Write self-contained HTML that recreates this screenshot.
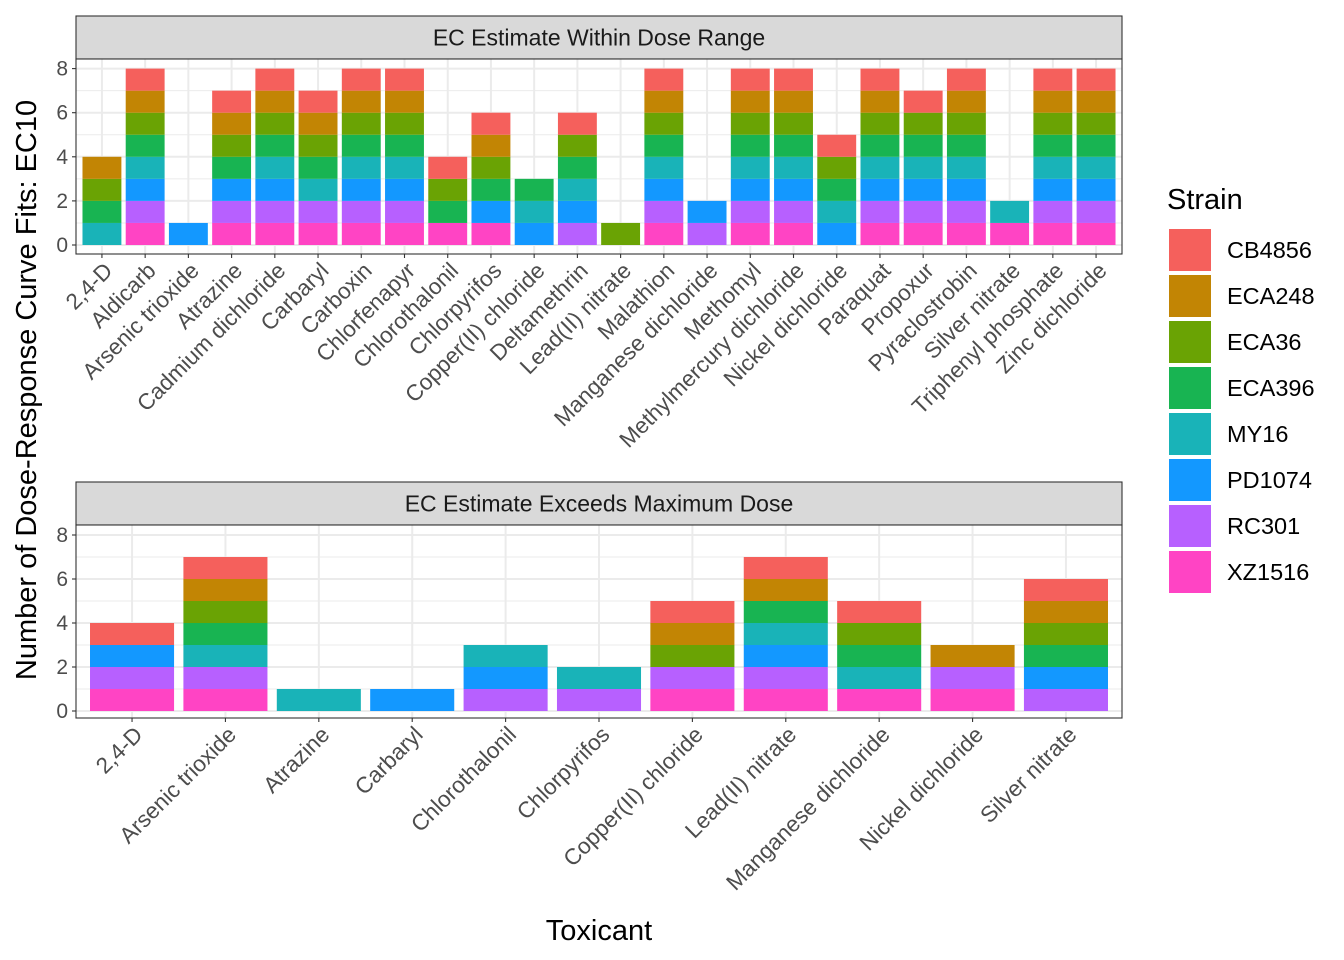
<!DOCTYPE html>
<html><head><meta charset="utf-8"><style>
html,body{margin:0;padding:0;background:#fff}
svg{display:block;font-family:"Liberation Sans",Arial,sans-serif}
</style></head><body>
<svg id="chart" width="1344" height="960" viewBox="0 0 1344 960" xmlns="http://www.w3.org/2000/svg"></svg>
<script>
const strains = ["XZ1516","RC301","PD1074","MY16","ECA396","ECA36","ECA248","CB4856"];
const colors = ["#FF44C4","#B760FF","#1398FF","#19B3B8","#18B452","#6AA304","#C28504","#F5605C"];
const legendOrder = ["CB4856","ECA248","ECA36","ECA396","MY16","PD1074","RC301","XZ1516"];
const topCats = ["2,4-D","Aldicarb","Arsenic trioxide","Atrazine","Cadmium dichloride","Carbaryl","Carboxin","Chlorfenapyr","Chlorothalonil","Chlorpyrifos","Copper(II) chloride","Deltamethrin","Lead(II) nitrate","Malathion","Manganese dichloride","Methomyl","Methylmercury dichloride","Nickel dichloride","Paraquat","Propoxur","Pyraclostrobin","Silver nitrate","Triphenyl phosphate","Zinc dichloride"];
const ALL = ["XZ1516","RC301","PD1074","MY16","ECA396","ECA36","ECA248","CB4856"];
const topStrains = [
 ["MY16","ECA396","ECA36","ECA248"], ALL, ["PD1074"],
 ["XZ1516","RC301","PD1074","ECA396","ECA36","ECA248","CB4856"], ALL,
 ["XZ1516","RC301","MY16","ECA396","ECA36","ECA248","CB4856"], ALL, ALL,
 ["XZ1516","ECA396","ECA36","CB4856"],
 ["XZ1516","PD1074","ECA396","ECA36","ECA248","CB4856"],
 ["PD1074","MY16","ECA396"],
 ["RC301","PD1074","MY16","ECA396","ECA36","CB4856"],
 ["ECA36"], ALL, ["RC301","PD1074"], ALL, ALL,
 ["PD1074","MY16","ECA396","ECA36","CB4856"], ALL,
 ["XZ1516","RC301","PD1074","MY16","ECA396","ECA36","CB4856"], ALL,
 ["XZ1516","MY16"], ALL, ALL];
const botCats = ["2,4-D","Arsenic trioxide","Atrazine","Carbaryl","Chlorothalonil","Chlorpyrifos","Copper(II) chloride","Lead(II) nitrate","Manganese dichloride","Nickel dichloride","Silver nitrate"];
const botStrains = [
 ["XZ1516","RC301","PD1074","CB4856"],
 ["XZ1516","RC301","MY16","ECA396","ECA36","ECA248","CB4856"],
 ["MY16"], ["PD1074"], ["RC301","PD1074","MY16"], ["RC301","MY16"],
 ["XZ1516","RC301","ECA36","ECA248","CB4856"],
 ["XZ1516","RC301","PD1074","MY16","ECA396","ECA248","CB4856"],
 ["XZ1516","MY16","ECA396","ECA36","CB4856"],
 ["XZ1516","RC301","ECA248"],
 ["RC301","PD1074","ECA396","ECA36","ECA248","CB4856"]];
const yTicks = [0,2,4,6,8];

const svg = document.getElementById('chart');
const NS = "http://www.w3.org/2000/svg";
function mk(tag, attrs, parent){const e=document.createElementNS(NS,tag);for(const k in attrs)e.setAttribute(k,attrs[k]);(parent||svg).appendChild(e);return e;}

function panel(cats, data, cfg, key){
  const g = mk('g',{});
  
  
  const {x0,x1,top,bottom,y0px,unit,title,stripTop} = cfg;
  const step = (x1-x0)/(cats.length-1+1.2);
  const xS = i => x0 + (0.6+i)*step;
  const yS = v => y0px - v*unit;
  const st = mk('rect',{x:x0,y:stripTop,width:x1-x0,height:top-stripTop,fill:'#D9D9D9',stroke:'#333',"stroke-width":1.1},g);
  
  
  const tt = mk('text',{x:(x0+x1)/2,y:(stripTop+top)/2+8,"text-anchor":"middle","font-size":"23",fill:'#1A1A1A'},g);
  tt.textContent = title;
  
  
  mk('rect',{x:x0,y:top,width:x1-x0,height:bottom-top,fill:'#fff'},g);
  for(let v=1; v<=9; v+=2){const y=yS(v); if(y>top) mk('line',{x1:x0,x2:x1,y1:y,y2:y,stroke:'#EBEBEB',"stroke-width":1},g);}
  yTicks.forEach(v=>mk('line',{x1:x0,x2:x1,y1:yS(v),y2:yS(v),stroke:'#EBEBEB',"stroke-width":2},g));
  cats.forEach((c,i)=>mk('line',{x1:xS(i),x2:xS(i),y1:top,y2:bottom,stroke:'#EBEBEB',"stroke-width":2},g));
  const bw = 0.9*step;
  cats.forEach((c,i)=>{
    data[i].forEach(s=>{
      const k = strains.indexOf(s);
      const lvl = strains.filter(t=>data[i].includes(t)).indexOf(s);
      const r = mk('rect',{x:xS(i)-bw/2,y:yS(lvl+1),width:bw,height:unit,fill:colors[k]},g);
      
      
    });
    const lx = xS(i)+12, ly = bottom+18;
    const t = mk('text',{x:lx,y:ly,"text-anchor":"end","font-size":"22.5",fill:'#4D4D4D',transform:`rotate(-45 ${lx} ${ly})`},g);
    t.textContent = c;
    
    
    mk('line',{x1:xS(i),x2:xS(i),y1:bottom,y2:bottom+4,stroke:'#333',"stroke-width":1.1},g);
  });
  yTicks.forEach(v=>{
    const t = mk('text',{x:x0-8,y:yS(v)+7,"text-anchor":"end","font-size":"21",fill:'#4D4D4D'},g);
    t.textContent = v;
    
    
    mk('line',{x1:x0-4,x2:x0,y1:yS(v),y2:yS(v),stroke:'#333',"stroke-width":1.1},g);
  });
  mk('rect',{x:x0,y:top,width:x1-x0,height:bottom-top,fill:'none',stroke:'#333',"stroke-width":1.1},g);
}
panel(topCats, topStrains, {x0:76,x1:1122,stripTop:16,top:59,bottom:254,y0px:245,unit:22.05,title:"EC Estimate Within Dose Range"},'top');
panel(botCats, botStrains, {x0:76,x1:1122,stripTop:482,top:525,bottom:718,y0px:711,unit:22,title:"EC Estimate Exceeds Maximum Dose"},'bottom');

const yt = mk('text',{x:0,y:0,"text-anchor":"middle","font-size":"29",fill:'#000',transform:'translate(36 390) rotate(-90)'});
yt.textContent = "Number of Dose-Response Curve Fits: EC10";


const xt = mk('text',{x:599,y:940,"text-anchor":"middle","font-size":"29",fill:'#000'});
xt.textContent = "Toxicant";



const lg = mk('g',{});


const lt = mk('text',{x:1167,y:209,"font-size":"29",fill:'#000'},lg);
lt.textContent = "Strain";


legendOrder.forEach((s,i)=>{
  const y = 229 + i*46;
  const r = mk('rect',{x:1169,y:y,width:42,height:42,fill:colors[strains.indexOf(s)]},lg);
  
  
  const t = mk('text',{x:1227,y:y+29,"font-size":"23.5",fill:'#000'},lg);
  t.textContent = s;
  
  
});
</script>
</body></html>
